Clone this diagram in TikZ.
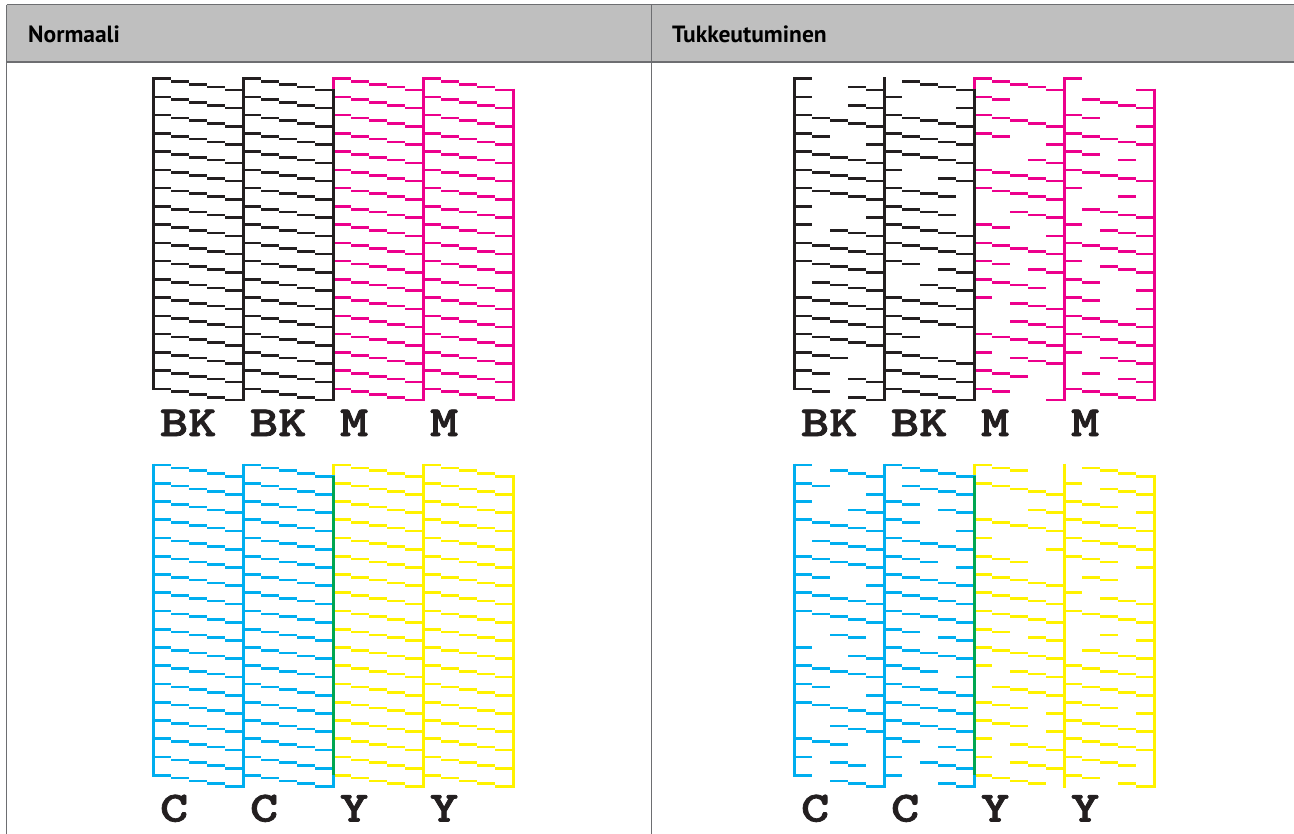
\documentclass[tikz,border=0pt]{standalone}
\usepackage{fontspec}
\setmainfont{PT Sans}
\newfontfamily\chanfont{lmmonolt10-bold.otf}[FakeStretch=1.25,FakeBold=1.8]
\definecolor{inkK}{HTML}{231F20}
\definecolor{inkM}{HTML}{EC008C}
\definecolor{inkC}{HTML}{00AEEF}
\definecolor{inkY}{HTML}{FFF200}
\definecolor{inkG}{HTML}{00A651}
\definecolor{headgray}{HTML}{BFBFBF}
\definecolor{rulegray}{HTML}{6D6E71}

% rows of a nozzle block: the dashes that are printed (1..5)
\newcommand{\allrows}{{1,2,3,4,5},{1,2,3,4,5},{1,2,3,4,5},{1,2,3,4,5},{1,2,3,4,5},{1,2,3,4,5},{1,2,3,4,5},{1,2,3,4,5},{1,2,3,4,5},{1,2,3,4,5},{1,2,3,4,5},{1,2,3,4,5},{1,2,3,4,5},{1,2,3,4,5},{1,2,3,4,5},{1,2,3,4,5},{1,2,3,4,5},{1,2,3,4,5}}
\newcommand{\rowsKa}{{1,4,5},{1,4,5},{1,2,3,4,5},{1,2,5},{1,2,3,4,5},{1,2,3,4,5},{1,2,3,4,5},{1,5},{1,3,4,5},{1,2,3,4,5},{1,2,3,4,5},{2,3,4,5},{1,2,3,4,5},{1,2,3,4,5},{1,2,3,4,5},{1,2,3},{1,2,4,5},{1,2,4,5}}
\newcommand{\rowsKb}{{2,3,4,5},{1,5},{1,2,3,4,5},{1,2,3,4,5},{1,2,3,4,5},{1,4,5},{1,2,3,4},{1,2,3,4},{1,2,3,4,5},{1,2,3,4,5},{1,2,4,5},{3,4,5},{1,2,3,4,5},{1,2,3,4,5},{1,2},{1,2,3,4,5},{1,2,3,4,5},{1,2,3,4,5}}
\newcommand{\rowsMa}{{1,2,3,4,5},{1,2},{1,2,3,4,5},{1,2,5},{4,5},{1,2,3,4,5},{1,2,3,4,5},{3,4,5},{1,2,5},{1,2,3,4,5},{1,2,4,5},{1,2,3,4},{1,3,4,5},{3,4,5},{1,2,3,4,5},{1,3,4,5},{1,2,3},{1,2,5}}
\newcommand{\rowsMb}{{1,5},{2,3,4,5},{1,2,5},{1,2,3,4,5},{1,2,4},{1,2,3,4,5},{1,4},{2,3,4,5},{1,3,4,5},{1,2,3,4,5},{1,3,4,5},{1,2,5},{1,2,5},{1,2,3,4,5},{1,2,3,4,5},{1,3,4,5},{2,4,5},{1,2,3,4,5}}
\newcommand{\rowsCa}{{1,3,4,5},{1,2,5},{1,4,5},{1,2,3,4,5},{2,3,4,5},{1,2,3,4,5},{1,2,5},{1,2,3,4,5},{1,2,3,4,5},{3,4},{1,4,5},{1,2,3,4,5},{1,2,5},{1,2,3,4,5},{3,4,5},{1,2,3},{1,3,4},{1,3,4,5}}
\newcommand{\rowsCb}{{1,2,3,4,5},{2,3,4,5},{1,2,4,5},{1,2,5},{1,2,3,4,5},{1,2,3,5},{1,2,3,4,5},{1,2,3,4,5},{1,2,3,4,5},{1,2,4,5},{1,2,3,4,5},{1,2,3,5},{1,2,3,4,5},{1,2,3,4,5},{1,2,3,4,5},{1,2,4,5},{1,3,4,5},{1,4,5}}
\newcommand{\rowsYa}{{1,2,3},{1,2,3,4,5},{4,5},{1,2,3,4,5},{1,5},{1,2,3},{1,2,3,4,5},{1,2,3,4,5},{1,2,3,4,5},{1,2,4,5},{1,2,3,4,5},{1,3,4,5},{2,3,4,5},{1,2,3,5},{1,2,3,5},{1,3,4,5},{1,3,4,5},{1,2,3,4}}
\newcommand{\rowsYb}{{2,3,4,5},{1,3,4,5},{1,2,3,5},{1,2,3,4,5},{1,2,3,4,5},{1,2,3,5},{2,3},{1,3,4,5},{1,2,3,4,5},{3,5},{2,3,4,5},{1,2,3,4,5},{1,2,3,4,5},{1,2,3,5},{1,2,3,4,5},{1,2,3,4,5},{1,2,3,4},{1,2,4,5}}

% #1 left x, #2 top y, #3 colour, #4 rows
\newcommand{\nozzleblock}[4]{%
  \draw[#3,line width=2.7pt] (#1,#2-1.35) -- (#1,#2+311.6);
  \draw[#3,line width=2.7pt] (#1+90,#2+9.85) -- (#1+90,#2+322.8);
  \foreach \rw [count=\rn from 0] in #4 {
    \foreach \k in \rw
      \draw[#3,line width=2.6pt] ({#1+(\k-1)*18},{#2+\rn*18.25+(\k-1)*2.8}) -- ++(18,0);
  }%
}

\begin{document}
\begin{tikzpicture}[x=1pt,y=-1pt]
  \useasboundingbox[fill=white] (0,0) rectangle (1294,834);
  % table
  \fill[headgray] (6.5,5) rectangle (1294,62);
  \draw[rulegray,line width=1pt] (6.5,5) -- (1294,5);
  \draw[rulegray,line width=1.3pt] (6.5,62) -- (1294,62);
  \draw[rulegray,line width=1pt] (6.5,5) -- (6.5,834);
  \draw[rulegray,line width=1pt] (651,5) -- (651,834);
  \node[anchor=base west,inner sep=0,font=\bfseries\fontsize{23.5}{24}\selectfont] (hdnorm) at (28,42.7) {Normaali};
  \node[anchor=base west,inner sep=0,font=\bfseries\fontsize{23.5}{24}\selectfont] (hdclog) at (672,42.7) {Tukkeutuminen};
  % normal
  \nozzleblock{333.3}{78.7}{inkM}{\allrows}
  \nozzleblock{423.3}{78.7}{inkM}{\allrows}
  \nozzleblock{153.3}{78.7}{inkK}{\allrows}
  \nozzleblock{243.3}{78.7}{inkK}{\allrows}
  \nozzleblock{333.3}{465}{inkY}{\allrows}
  \nozzleblock{423.3}{465}{inkY}{\allrows}
  \nozzleblock{153.3}{465}{inkC}{\allrows}
  \nozzleblock{243.3}{465}{inkC}{\allrows}
  \draw[inkG,line width=2.7pt] (333.3,476.2) -- (333.3,775.3);
  % clogged
  \nozzleblock{974.3}{78.7}{inkM}{\rowsMa}
  \nozzleblock{1064.3}{78.7}{inkM}{\rowsMb}
  \nozzleblock{794.3}{78.7}{inkK}{\rowsKa}
  \nozzleblock{884.3}{78.7}{inkK}{\rowsKb}
  \nozzleblock{974.3}{465}{inkY}{\rowsYa}
  \nozzleblock{1064.3}{465}{inkY}{\rowsYb}
  \nozzleblock{794.3}{465}{inkC}{\rowsCa}
  \nozzleblock{884.3}{465}{inkC}{\rowsCb}
  \draw[inkG,line width=2.7pt] (974.3,476.2) -- (974.3,775.3);
  % labels
  \foreach \bx/\lab [count=\n] in {153.3/BK,243.3/BK,333.3/M,423.3/M,794.3/BK,884.3/BK,974.3/M,1064.3/M}
    \node[anchor=base west,inner sep=0,text=inkK,font=\chanfont\fontsize{43}{43}\selectfont] (lbtop\n) at (\bx+6.5,436) {\lab};
  \foreach \bx/\lab [count=\n] in {153.3/C,243.3/C,333.3/Y,423.3/Y,794.3/C,884.3/C,974.3/Y,1064.3/Y}
    \node[anchor=base west,inner sep=0,text=inkK,font=\chanfont\fontsize{43}{43}\selectfont] (lbbot\n) at (\bx+6.5,821.5) {\lab};
\end{tikzpicture}
\end{document}
